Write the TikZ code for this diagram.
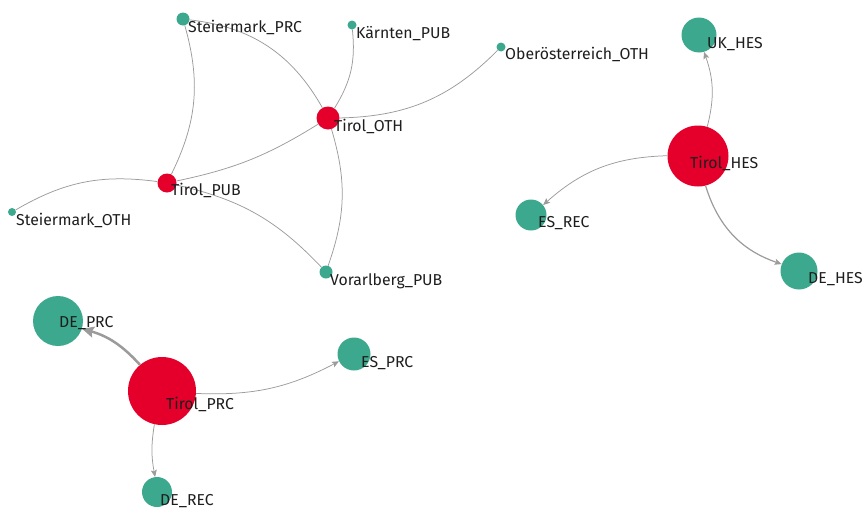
\documentclass[tikz,border=0pt]{standalone}
\usepackage{fontspec}
\setmainfont{Fira Sans}
\usetikzlibrary{arrows.meta, positioning}
\definecolor{hubred}{RGB}{228,0,43}
\definecolor{leafgreen}{RGB}{60,168,141}
\definecolor{linkgray}{RGB}{155,155,155}
\definecolor{lbltext}{RGB}{30,30,30}

\begin{document}
\begin{tikzpicture}[x=1pt, y=-1pt,
      hub/.style={circle, fill=hubred, inner sep=0pt},
      leaf/.style={circle, fill=leafgreen, inner sep=0pt},
      lbl/.style={anchor=base west, inner sep=0pt, text=lbltext,
                  font=\fontsize{15.8}{18}\selectfont},
      link/.style={draw=linkgray, line width=0.75pt},
      arr/.style={link, -{Stealth[length=7pt, width=6pt, inset=1.5pt]}}
    ]
    \useasboundingbox (0,0) rectangle (867,509);

    % regional network
    \node[leaf, minimum size=13pt] (stprc) at (183,19)  {};
    \node[leaf, minimum size=9pt]  (kpub)  at (352,25)  {};
    \node[leaf, minimum size=9pt]  (ooth)  at (501,47)  {};
    \node[hub,  minimum size=23pt] (toth)  at (328,118) {};
    \node[hub,  minimum size=19pt] (tpub)  at (167,183) {};
    \node[leaf, minimum size=8pt]  (stoth) at (12,212)  {};
    \node[leaf, minimum size=13pt] (vpub)  at (326,272) {};

    % HES group
    \node[leaf, minimum size=35pt] (ukhes) at (699,35)  {};
    \node[hub,  minimum size=61pt] (thes)  at (698,156) {};
    \node[leaf, minimum size=31pt] (esrec) at (531,215) {};
    \node[leaf, minimum size=37pt] (dehes) at (799,271) {};

    % PRC group
    \node[leaf, minimum size=50pt] (deprc) at (58,321)  {};
    \node[leaf, minimum size=33pt] (esprc) at (354,354) {};
    \node[hub,  minimum size=68pt] (tprc)  at (162,391) {};
    \node[leaf, minimum size=30pt] (derec) at (157,492) {};

    \draw[link] (stprc) to[bend left=21] (tpub);
    \draw[link] (stprc) to[bend left=27] (toth);
    \draw[link] (kpub)  to[bend left=19] (toth);
    \draw[link] (ooth)  to[bend left=22] (toth);
    \draw[link] (tpub)  to[bend right=10] (toth);
    \draw[link] (stoth) to[bend left=19] (tpub);
    \draw[link] (tpub)  to[bend left=17] (vpub);
    \draw[link] (toth)  to[bend left=18] (vpub);

    \draw[arr] (thes) to[bend right=17] (ukhes);
    \draw[arr] (thes) to[bend right=20] (esrec);
    \draw[arr, line width=1.2pt] (thes) to[bend right=27] (dehes);

    \draw[arr, line width=2.5pt, -{Stealth[length=12pt, width=11pt, inset=2pt]}] (tprc) to[bend right=16] (deprc);
    \draw[arr] (tprc) to[bend right=15] (esprc);
    \draw[arr] (tprc) to[bend right=10] (derec);

    \node[lbl] (stprc-l) at (188,32)  {Steiermark\_PRC};
    \node[lbl] (kpub-l)  at (356,38)  {Kärnten\_PUB};
    \node[lbl] (ooth-l)  at (505,59)  {Oberösterreich\_OTH};
    \node[lbl] (toth-l)  at (334,131) {Tirol\_OTH};
    \node[lbl] (tpub-l)  at (171,195) {Tirol\_PUB};
    \node[lbl] (stoth-l) at (16,225)  {Steiermark\_OTH};
    \node[lbl] (vpub-l)  at (330,285) {Vorarlberg\_PUB};
    \node[lbl] (ukhes-l) at (707,48)  {UK\_HES};
    \node[lbl] (thes-l)  at (690,168) {Tirol\_HES};
    \node[lbl] (esrec-l) at (538,227) {ES\_REC};
    \node[lbl] (dehes-l) at (808,283) {DE\_HES};
    \node[lbl] (deprc-l) at (59,327)  {DE\_PRC};
    \node[lbl] (esprc-l) at (361,367) {ES\_PRC};
    \node[lbl] (tprc-l)  at (166,409) {Tirol\_PRC};
    \node[lbl] (derec-l) at (160,505) {DE\_REC};
  \end{tikzpicture}
\end{document}
